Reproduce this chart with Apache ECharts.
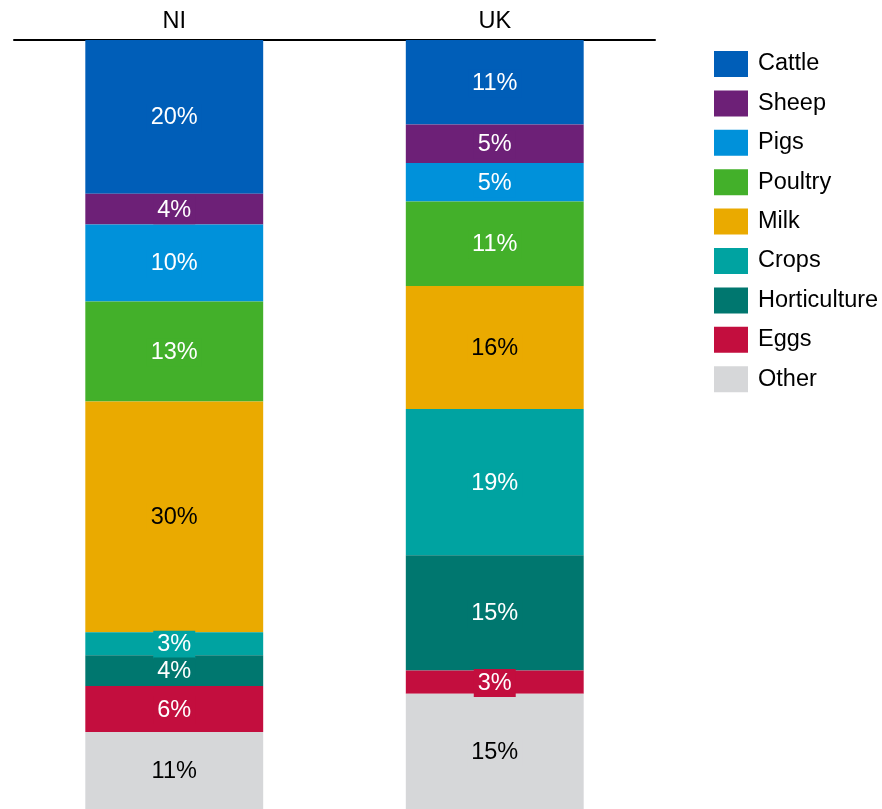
<!DOCTYPE html>
<html>
<head>
<meta charset="utf-8">
<script src="https://cdn.jsdelivr.net/npm/echarts@6/dist/echarts.min.js"></script>
<style>
  html, body { margin: 0; padding: 0; background: #fff; }
  #chart { width: 882px; height: 809px; }
</style>
</head>
<body>
<div id="chart"></div>
<script>
// Share of agricultural output by sector
const regions = ['NI', 'UK'];
const sectors = ['Cattle', 'Sheep', 'Pigs', 'Poultry', 'Milk', 'Crops', 'Horticulture', 'Eggs', 'Other'];
const niShares = [20, 4, 10, 13, 30, 3, 4, 6, 11];
const ukShares = [11, 5, 5, 11, 16, 19, 15, 3, 15];
const sectorColors = ['#005EB8', '#6D2077', '#0091DA', '#43B02A', '#EAAA00', '#00A3A1', '#00776F', '#C30E3E', '#D6D7D9'];
const darkLabelSectors = ['Milk', 'Other'];

const FONT = "'Liberation Sans', Arial, sans-serif";
const FONT_SIZE = 23.5;

const series = sectors.map((name, i) => ({
  name: name,
  type: 'bar',
  stack: 'total',
  barWidth: '55.5%',
  data: [niShares[i], ukShares[i]],
  itemStyle: { color: sectorColors[i] },
  label: {
    show: true,
    position: 'inside',
    formatter: '{c}%',
    fontFamily: FONT,
    fontSize: FONT_SIZE,
    color: darkLabelSectors.includes(name) ? '#000' : '#fff',
    backgroundColor: sectorColors[i],
    padding: [2, 4, 2, 4],
    offset: [0, 1]
  }
}));

const chart = echarts.init(document.getElementById('chart'));
chart.setOption({
  animation: false,
  textStyle: { fontFamily: FONT },
  grid: { left: 14, right: 227, top: 40, bottom: 0, containLabel: false },
  legend: {
    orient: 'vertical',
    left: 714,
    top: 51,
    padding: 0,
    icon: 'rect',
    itemWidth: 34,
    itemHeight: 26,
    itemGap: 13.4,
    textStyle: { fontFamily: FONT, fontSize: FONT_SIZE, color: '#000', padding: [0, 0, 0, 5] },
    data: sectors
  },
  xAxis: {
    type: 'category',
    position: 'top',
    data: regions,
    axisLine: { show: true, lineStyle: { color: '#000', width: 2 } },
    axisTick: { show: false },
    axisLabel: { fontFamily: FONT, fontSize: FONT_SIZE, color: '#000', margin: 6 }
  },
  yAxis: {
    type: 'value',
    inverse: true,
    min: 0,
    max: 100,
    show: false,
    splitLine: { show: false }
  },
  series: series
});
</script>
</body>
</html>
